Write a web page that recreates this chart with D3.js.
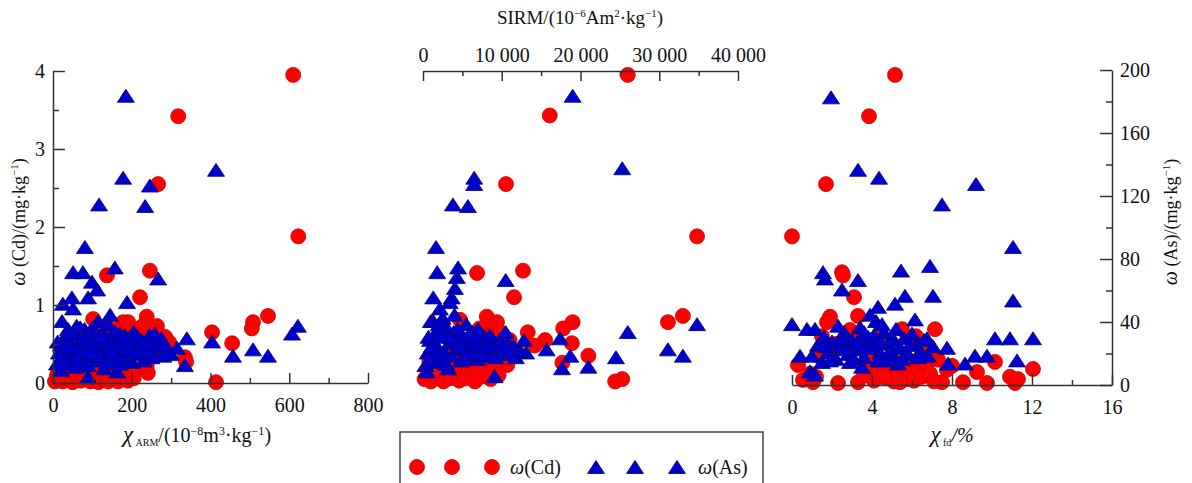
<!DOCTYPE html>
<html>
<head>
<meta charset="utf-8">
<script src="https://cdn.jsdelivr.net/npm/d3@7"></script>
<style>
  body { margin: 0; background: #fff; }
  svg text { font-family: "Liberation Serif", "DejaVu Serif", serif; fill: #111; }
</style>
</head>
<body>
<div id="chart"></div>
<script>
// χARM vs ω(Cd)
var armCd = [
  [610,3.95],[318,3.42],[267,2.55],[623,1.88],[137,1.38],[246,1.44],[221,1.10],[102,0.82],[191,0.78],
  [238,0.85],[264,0.73],[285,0.59],[404,0.65],[455,0.51],[508,0.78],[505,0.70],[546,0.86],[335,0.33],
  [338,0.27],[241,0.13],[414,0.01],
  [178,0.78],[203,0.65],[137,0.74],[225,0.72],[255,0.66],[270,0.62],[295,0.52],[215,0.6],[160,0.68],
  [120,0.62],[250,0.55],[195,0.48],[275,0.45],
  [5,0.02],[10,0.1],[15,0.05],[20,0.16],[25,0.02],[30,0.1],[35,0.2],[40,0.05],[45,0.12],[50,0.01],
  [55,0.18],[60,0.08],[65,0.25],[70,0.03],[75,0.14],[80,0.06],[85,0.2],[90,0.1],[95,0.02],[100,0.15],
  [105,0.06],[110,0.22],[115,0.01],[120,0.12],[125,0.05],[130,0.18],[135,0.08],[140,0.02],[145,0.14],
  [150,0.22],[155,0.06],[160,0.12],[165,0.02],[170,0.18],[175,0.08],[185,0.14],[190,0.03],[195,0.1],
  [205,0.06],[210,0.18],[60,0.3],[100,0.35],[170,0.3],[30,0.32],[140,0.4],[80,0.45],[238,0.22]
];
// χARM vs ω(As)
var armAs = [
  [185,183],[414,136],[178,131],[246,126],[117,114],[234,113],[81,87],[51,71],[76,71],[157,74],[99,65],
  [112,60],[267,67],[89,55],[48,55],[25,51],[51,48],[188,52],[145,44],[23,40],[38,35],[69,36],[622,37],
  [607,32],[340,29],[404,27],[315,23],[508,22],[457,18],[546,18],[335,12],[89,4.5],[163,8],[10,13],
  [15,20],[20,25],[25,17],[30,30],[35,22],[40,15],[45,27],[50,19],[55,32],[60,24],[65,14],[70,28],
  [75,21],[80,35],[85,17],[90,26],[95,31],[100,20],[105,24],[110,15],[115,29],[120,22],[125,33],
  [130,18],[135,26],[140,21],[145,30],[150,16],[155,25],[160,28],[165,20],[170,32],[175,23],[180,17],
  [185,27],[190,21],[195,30],[200,14],[210,25],[220,19],[225,28],[235,22],[245,31],[255,20],[262,27],
  [270,24],[280,18],[290,22],[300,19],[60,37],[100,36],[140,38],[20,9],[130,10],[205,33],[115,40],
  [12,27],[28,13],[42,33],[58,11],[68,20],[78,29],[88,12],[98,23],[108,33],[118,18],[128,27],[138,14],
  [148,24],[158,33],[168,13],[178,25],[198,22],[215,30],[230,15],[240,26],[250,17],[258,32],[275,29],
  [285,25],[240,20],[200,28],[32,24],[62,17],[92,20],[122,30],[152,20],[182,31],[212,21],[228,25]
];
// SIRM vs ω(Cd)
var sirmCd = [
  [26000,3.95],[16100,3.43],[10540,2.55],[34800,1.88],[6860,1.41],[12700,1.44],[11560,1.10],[31100,0.78],
  [33000,0.86],[19000,0.78],[17800,0.70],[13300,0.65],[15500,0.55],[18900,0.51],[21000,0.35],[17700,0.26],
  [24400,0.02],[25300,0.05],[8100,0.85],[9400,0.78],[8800,0.72],[4700,0.81],[10700,0.23],[10000,0.32],
  [7200,0.7],[9800,0.65],[7600,0.6],[11000,0.55],[6500,0.62],[8500,0.5],[10300,0.45],[12000,0.4],
  [5500,0.55],[14200,0.48],
  [200,0.05],[600,0.15],[1000,0.02],[1400,0.2],[1800,0.08],[2200,0.12],[2600,0.02],[3000,0.18],
  [3400,0.06],[3800,0.24],[4200,0.1],[4600,0.03],[5000,0.15],[5400,0.06],[5800,0.2],[6200,0.1],
  [6600,0.02],[7000,0.16],[7400,0.08],[7800,0.22],[8200,0.12],[8600,0.05],[9000,0.18],[800,0.28],
  [2000,0.35],[3500,0.4],[5200,0.3],[6800,0.35],[9600,0.1],[1200,0.1]
];
// SIRM vs ω(As)
var sirmAs = [
  [19000,183],[25300,137],[6500,131],[6500,127],[3800,114],[5700,113],[1650,87],[1800,71],[4450,74],
  [4300,68],[10500,66],[4050,61],[1300,55],[3650,55],[2150,48],[1300,40],[3400,52],[34800,38],[26000,33],
  [31100,22],[33000,18],[24500,17],[21000,11],[17650,10],[18700,18],[17400,29],[15700,22],[13100,20],
  [10500,33],[9100,5],
  [300,12],[600,20],[900,28],[1200,16],[1500,32],[1800,24],[2100,14],[2400,30],[2700,20],[3000,36],
  [3300,26],[3600,18],[3900,33],[4200,22],[4500,28],[4800,15],[5100,30],[5400,24],[5700,19],[6000,27],
  [6300,33],[6600,21],[6900,16],[7200,28],[7500,23],[7800,30],[8100,18],[8400,25],[8700,21],[9000,27],
  [9500,23],[10000,20],[10800,26],[11500,24],[12200,21],[1000,40],[2500,42],[4000,44],[5500,38],
  [7000,35],[12800,28],[11800,17],[500,8],[3200,10],[2000,38],
  [700,30],[1100,24],[1600,19],[2300,35],[2900,13],[3500,30],[4400,35],[4900,24],[5300,17],[5900,32],
  [6400,26],[6800,30],[7300,19],[7900,24],[8500,31],[9200,17],[9700,28],[10300,24],[11100,19],[800,15]
];
// χfd vs ω(Cd)
var fdCd = [
  [5.15,3.95],[3.85,3.42],[1.7,2.55],[0.0,1.88],[2.5,1.42],[2.55,1.38],[3.1,1.10],[1.9,0.85],[1.75,0.78],
  [3.3,0.86],[7.15,0.69],[2.9,0.68],[10.15,0.27],[12.05,0.18],[0.3,0.23],[0.55,0.04],[1.05,0.01],[2.3,0.0],
  [3.3,0.01],[8.55,0.01],[9.75,0.0],[10.9,0.08],[11.15,0.0],[9.25,0.14],[7.5,0.01],[7.75,0.17],[6.75,0.26],
  [4.4,0.64],[5.5,0.69],
  [1.5,0.6],[2.2,0.5],[2.7,0.55],[3.5,0.6],[2.0,0.4],[3.0,0.45],[4.0,0.55],[4.8,0.5],[3.7,0.38],[1.3,0.35],
  [6.2,0.6],[6.8,0.4],[7.3,0.3],[8.0,0.22],[11.3,0.05],[0.9,0.12],[1.2,0.08],
  [3.6,0.1],[3.9,0.2],[4.1,0.03],[4.3,0.14],[4.5,0.25],[4.7,0.06],[4.9,0.18],[5.1,0.02],[5.3,0.12],
  [5.5,0.22],[5.7,0.05],[5.9,0.15],[6.1,0.03],[6.3,0.2],[6.5,0.08],[6.9,0.12],[7.1,0.02],[4.2,0.3],
  [5.0,0.32],[5.8,0.3],[6.6,0.28],[4.6,0.1],[5.4,0.01]
];
// χfd vs ω(As)
var fdAs = [
  [1.95,182],[3.3,136],[4.35,131],[9.2,127],[7.5,114],[11.05,87],[1.55,71],[1.65,67],[5.45,72],[6.9,75],
  [3.3,66],[2.5,60],[5.65,56],[7.05,56],[5.15,51],[11.05,53],[0.0,38],[0.75,35],[1.15,35],[4.3,49],
  [6.15,41],[10.15,29],[10.9,29],[12.05,29],[7.75,23],[8.65,13],[9.15,18],[9.75,18],[11.25,15],[7.8,13],
  [0.4,18],[1.0,18],[0.9,8],[1.15,6],[6.75,29],[7.05,24],
  [1.3,25],[1.6,30],[1.8,20],[2.0,27],[2.2,16],[2.4,24],[2.6,33],[2.8,19],[3.0,28],[3.2,22],[3.4,36],
  [3.6,17],[3.8,30],[4.0,24],[4.2,40],[4.4,20],[4.6,33],[4.8,26],[5.0,18],[5.2,35],[5.4,23],[5.6,29],
  [5.8,19],[6.0,32],[6.2,25],[6.4,21],[6.6,28],[3.9,44],[4.5,38],[2.9,14],[5.3,13],[1.5,14],[6.8,18],
  [3.5,11],[4.7,15],[2.3,37],
  [1.9,15],[2.5,29],[2.7,22],[3.1,16],[3.3,27],[3.7,23],[4.1,31],[4.3,15],[4.9,21],[5.1,28],[5.5,16],
  [5.9,25],[6.3,17],[1.7,24],[4.4,27],[3.6,33]
];

// ticks
var armTicks = [0, 200, 400, 600, 800];
var armMinor = [100, 300, 500, 700];
var sirmTicks = [0, 10000, 20000, 30000, 40000];
var sirmLabels = ["0", "10 000", "20 000", "30 000", "40 000"];
var sirmMinor = [5000, 15000, 25000, 35000];
var fdTicks = [0, 4, 8, 12, 16];
var fdMinor = [2, 6, 10, 14];
var cdTicks = [0, 1, 2, 3, 4];
var cdMinor = [0.5, 1.5, 2.5, 3.5];
var asTicks = [0, 40, 80, 120, 160, 200];
var asMinor = [20, 60, 100, 140, 180];

var width = 1192, height = 483;
var svg = d3.select("#chart").append("svg")
  .attr("width", width).attr("height", height);

var armX = d3.scaleLinear().domain([0, 800]).range([53, 368]);
var sirmX = d3.scaleLinear().domain([0, 40000]).range([423, 738]);
var fdX = d3.scaleLinear().domain([0, 16]).range([792, 1112]);
var cdY = d3.scaleLinear().domain([0, 4]).range([383, 71]);
var asY = d3.scaleLinear().domain([0, 200]).range([385, 70]);

var red = "#ff0000", redEdge = "#d00000", blue = "#0000cc", blueEdge = "#00007a";
var fmt = d3.format("d");

function tri(x, y) {
  return "M" + x + "," + (y - 7.5) + "L" + (x + 8.5) + "," + (y + 5.5) + "L" + (x - 8.5) + "," + (y + 5.5) + "Z";
}

function drawPoints(cd, as, xs) {
  svg.append("g").selectAll("circle").data(cd).enter().append("circle")
    .attr("cx", function(d) { return xs(d[0]); })
    .attr("cy", function(d) { return cdY(d[1]); })
    .attr("r", 7.5)
    .style("fill", red).style("stroke", redEdge).style("stroke-width", 0.8);
  svg.append("g").selectAll("path").data(as).enter().append("path")
    .attr("d", function(d) { return tri(xs(d[0]), asY(d[1])); })
    .style("fill", blue).style("stroke", blueEdge).style("stroke-width", 0.8);
}

drawPoints(armCd, armAs, armX);
drawPoints(sirmCd, sirmAs, sirmX);
drawPoints(fdCd, fdAs, fdX);

function styleAxis(g) {
  g.selectAll("path, line").style("stroke", "#333").style("stroke-width", 1.5);
  g.selectAll("text").style("font-size", "20px").style("fill", "#111");
}

// left panel axes
svg.append("g").attr("transform", "translate(0,383)")
  .call(d3.axisBottom(armX).tickValues(armTicks).tickFormat(fmt).tickSize(-10).tickSizeOuter(0).tickPadding(15))
  .call(styleAxis);
svg.append("g").attr("transform", "translate(0,383)")
  .call(d3.axisBottom(armX).tickValues(armMinor).tickSize(-5).tickFormat(""))
  .call(styleAxis).select(".domain").remove();
svg.append("g").attr("transform", "translate(53,0)")
  .call(d3.axisLeft(cdY).tickValues(cdTicks).tickFormat(fmt).tickSize(-12).tickSizeOuter(0).tickPadding(8))
  .call(styleAxis);
svg.append("g").attr("transform", "translate(53,0)")
  .call(d3.axisLeft(cdY).tickValues(cdMinor).tickSize(-6).tickFormat(""))
  .call(styleAxis).select(".domain").remove();

// middle panel top axis
svg.append("g").attr("transform", "translate(0,71)")
  .call(d3.axisTop(sirmX).tickValues(sirmTicks).tickSize(-10).tickSizeOuter(0).tickPadding(9)
    .tickFormat(function(d, i) { return sirmLabels[i]; }))
  .call(styleAxis);
svg.append("g").attr("transform", "translate(0,71)")
  .call(d3.axisTop(sirmX).tickValues(sirmMinor).tickSize(-5).tickFormat(""))
  .call(styleAxis).select(".domain").remove();

// right panel axes
svg.append("g").attr("transform", "translate(0,385)")
  .call(d3.axisBottom(fdX).tickValues(fdTicks).tickFormat(fmt).tickSize(-10).tickSizeOuter(0).tickPadding(15))
  .call(styleAxis);
svg.append("g").attr("transform", "translate(0,385)")
  .call(d3.axisBottom(fdX).tickValues(fdMinor).tickSize(-5).tickFormat(""))
  .call(styleAxis).select(".domain").remove();
svg.append("g").attr("transform", "translate(1112,0)")
  .call(d3.axisRight(asY).tickValues(asTicks).tickFormat(fmt).tickSize(-12).tickSizeOuter(0).tickPadding(8))
  .call(styleAxis);
svg.append("g").attr("transform", "translate(1112,0)")
  .call(d3.axisRight(asY).tickValues(asMinor).tickSize(-6).tickFormat(""))
  .call(styleAxis).select(".domain").remove();

// rich text: parts = [text, dy, size, italic]
function rich(t, parts) {
  parts.forEach(function(p) {
    var s = t.append("tspan").text(p[0]);
    if (p[1]) s.attr("dy", p[1]);
    if (p[2]) s.style("font-size", p[2]);
    if (p[3]) s.style("font-style", "italic");
  });
  return t;
}

rich(svg.append("text").attr("x", 197).attr("y", 442).attr("text-anchor", "middle").style("font-size", "20px"), [
  ["χ", 0, "23px", true], [" ARM", 4, "10px"], ["/(10", -4], ["−8", -7, "12px"], ["m", 7],
  ["3", -7, "12px"], ["·kg", 7], ["−1", -7, "12px"], [")", 7]
]);

rich(svg.append("text").attr("x", 580).attr("y", 24).attr("text-anchor", "middle").style("font-size", "19px"), [
  ["SIRM/(10"], ["−6", -7, "11px"], ["Am", 7], ["2", -7, "11px"], ["·kg", 7], ["−1", -7, "11px"], [")", 7]
]);

rich(svg.append("text").attr("x", 952).attr("y", 442).attr("text-anchor", "middle").style("font-size", "20px"), [
  ["χ", 0, "23px", true], [" fd", 4, "10px"], ["/%", -4, null, true]
]);

function yTitle(x, y, el) {
  var t = svg.append("text").attr("transform", "translate(" + x + "," + y + ") rotate(-90)")
    .attr("text-anchor", "middle").style("font-size", "18px");
  rich(t, [["ω", 0, "20px", true], [" (" + el + ")/(mg·kg"], ["−1", -7, "11px"], [")", 7]]);
}
yTitle(25, 222, "Cd");
yTitle(1177, 222, "As");

// legend
var legendCd = [417, 452, 492];
var legendAs = [596, 635, 677];
var lg = svg.append("g");
lg.append("rect").attr("x", 400).attr("y", 432).attr("width", 363).attr("height", 70)
  .style("fill", "#fff").style("stroke", "#444").style("stroke-width", 1.5);
lg.selectAll("circle").data(legendCd).enter().append("circle")
  .attr("cx", function(d) { return d; }).attr("cy", 467).attr("r", 7.5)
  .style("fill", red).style("stroke", redEdge).style("stroke-width", 0.8);
lg.selectAll("path").data(legendAs).enter().append("path")
  .attr("d", function(d) { return tri(d, 468); })
  .style("fill", blue).style("stroke", blueEdge).style("stroke-width", 0.8);
rich(lg.append("text").attr("x", 510).attr("y", 474).style("font-size", "20px"), [["ω", 0, null, true], ["(Cd)"]]);
rich(lg.append("text").attr("x", 698).attr("y", 474).style("font-size", "20px"), [["ω", 0, null, true], ["(As)"]]);
</script>
</body>
</html>
